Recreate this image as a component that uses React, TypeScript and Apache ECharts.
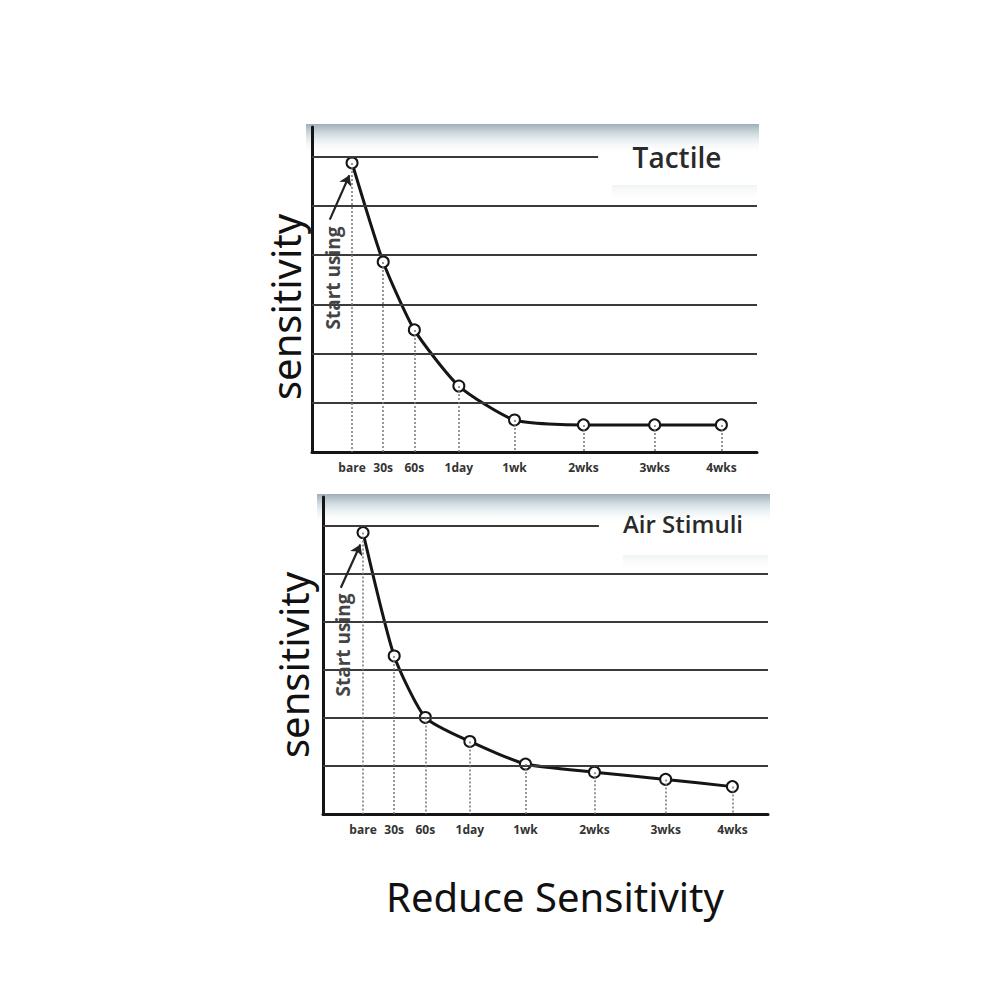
import React, { useEffect, useRef } from "react";
import * as echarts from "echarts";

// ---- data ----
const timeLabels = ["bare", "30s", "60s", "1day", "1wk", "2wks", "3wks", "4wks"];
const timePositions = [9, 16, 23, 33, 45.5, 61, 77, 92];
const tactileValues = [5.87, 3.86, 2.48, 1.34, 0.65, 0.55, 0.55, 0.55];
const airValues = [5.86, 3.29, 2.01, 1.51, 1.04, 0.87, 0.72, 0.57];
const gridLevels = [1, 2, 3, 4, 5];
const topLevel = 6;
const topLineEnds = [64.3, 62];
const panelTitles = ["Tactile", "Air Stimuli"];
const yAxisName = "sensitivity";
const footerTitle = "Reduce Sensitivity";
const annotation = "Start using";

const panelValues = [tactileValues, airValues];

const grids = [
  { left: 312, top: 127, width: 445, height: 325 },
  { left: 323, top: 497, width: 445, height: 317 },
];

function buildOption() {
  const xAxes: any[] = [];
  const yAxes: any[] = [];
  const series: any[] = [];
  panelValues.forEach((values, p) => {
    xAxes.push({
      type: "value",
      gridIndex: p,
      min: 0,
      max: 100,
      axisLine: { show: true, lineStyle: { color: "#151515", width: 3 } },
      axisTick: { show: false },
      splitLine: { show: false },
      axisLabel: {
        show: true,
        customValues: timePositions,
        formatter: (v: number) => {
          const i = timePositions.indexOf(v);
          return i >= 0 ? timeLabels[i] : "";
        },
        margin: 9,
        fontSize: 12,
        fontWeight: "bold",
        color: "#333",
        fontFamily: "Open Sans",
        hideOverlap: false,
      },
    });
    yAxes.push({
      type: "value",
      gridIndex: p,
      min: 0,
      max: 6.6,
      interval: 1,
      axisLine: { show: true, lineStyle: { color: "#151515", width: 3 } },
      axisTick: { show: false },
      axisLabel: { show: false },
      splitLine: { show: false },
    });
    const data = timePositions.map((x, i) => [x, values[i]]);
    const gridStyle = { color: "#3a3a3a", width: 2, type: "solid" };
    series.push({
      type: "line",
      xAxisIndex: p,
      yAxisIndex: p,
      data: [],
      z: 1,
      silent: true,
      markLine: {
        silent: true,
        symbol: ["none", "none"],
        label: { show: false },
        animation: false,
        data: [
          ...gridLevels.map((v) => ({ yAxis: v, lineStyle: gridStyle })),
          [
            { coord: [0, topLevel], lineStyle: gridStyle },
            { coord: [topLineEnds[p], topLevel] },
          ],
          ...data.map(([x, y]) => [
            { coord: [x, y], lineStyle: { color: "#777", width: 1.5, type: [2, 2] } },
            { coord: [x, 0] },
          ]),
        ],
      },
    });
    series.push({
      type: "line",
      xAxisIndex: p,
      yAxisIndex: p,
      data,
      z: 3,
      smooth: 0.2,
      symbol: "emptyCircle",
      symbolSize: 11,
      showSymbol: true,
      lineStyle: { color: "#151515", width: 3 },
      itemStyle: { color: "#151515", borderColor: "#151515", borderWidth: 2.6 },
      markLine: {
        silent: true,
        label: { show: false },
        animation: false,
        data: [
          [
            {
              coord: [data[0][0] - 5, data[0][1] - 1.15],
              symbol: "none",
              lineStyle: { color: "#222", width: 2.2, type: "solid", curveness: -0.1 },
            },
            { coord: [data[0][0] - 0.6, data[0][1] - 0.25], symbol: "arrow", symbolSize: 10 },
          ],
        ],
      },
    });
  });

  const graphics: any[] = [];
  grids.forEach((g, p) => {
    graphics.push({
      type: "rect",
      z: -1,
      shape: { x: g.left - 6, y: g.top - 3, width: g.width + 8, height: 30 },
      style: {
        fill: new echarts.graphic.LinearGradient(0, 0, 0, 1, [
          { offset: 0, color: "rgba(105,130,145,0.65)" },
          { offset: 0.5, color: "rgba(170,190,200,0.3)" },
          { offset: 1, color: "rgba(255,255,255,0)" },
        ]),
      },
    });
    graphics.push({
      type: "rect",
      z: -1,
      shape: { x: g.left + 300, y: g.top + 58, width: 145, height: 18 },
      style: {
        fill: new echarts.graphic.LinearGradient(0, 0, 0, 1, [
          { offset: 0, color: "rgba(170,190,200,0.18)" },
          { offset: 1, color: "rgba(255,255,255,0)" },
        ]),
      },
    });
    graphics.push({
      type: "text",
      z: 10,
      x: p === 0 ? 677 : 683,
      y: p === 0 ? 157 : 523,
      style: {
        text: panelTitles[p],
        fontSize: p === 0 ? 28 : 24,
        fontWeight: 600,
        fontFamily: "Open Sans",
        fill: "#2a2a2a",
        textAlign: "center",
        textVerticalAlign: "middle",
      },
    });
    graphics.push({
      type: "text",
      z: 10,
      x: p === 0 ? 333 : 343,
      y: p === 0 ? 278 : 645,
      rotation: Math.PI / 2,
      style: {
        text: annotation,
        fontSize: 19,
        fontWeight: "bold",
        fontFamily: "Open Sans",
        fill: "#444",
        textAlign: "center",
        textVerticalAlign: "middle",
      },
    });
    graphics.push({
      type: "text",
      z: 10,
      x: p === 0 ? 285 : 293,
      y: p === 0 ? 307 : 665,
      rotation: Math.PI / 2,
      style: {
        text: yAxisName,
        fontSize: 40,
        fontFamily: "Noto Sans",
        fill: "#111",
        textAlign: "center",
        textVerticalAlign: "middle",
      },
    });
  });
  graphics.push({
    type: "text",
    x: 555,
    y: 896,
    style: {
      text: footerTitle,
      fontSize: 40,
      fontFamily: "Noto Sans",
      fill: "#111",
      textAlign: "center",
      textVerticalAlign: "middle",
    },
  });

  return {
    animation: false,
    backgroundColor: "#ffffff",
    grid: grids.map((g) => ({ ...g, containLabel: false })),
    xAxis: xAxes,
    yAxis: yAxes,
    series,
    graphic: graphics,
  };
}

export default function App() {
  const ref = useRef<HTMLDivElement>(null);
  useEffect(() => {
    document.body.style.margin = "0";
    if (!ref.current) return;
    const chart = echarts.init(ref.current, undefined, { renderer: "svg" });
    chart.setOption(buildOption() as any);
    return () => chart.dispose();
  }, []);
  return <div ref={ref} style={{ width: 1000, height: 1000 }} />;
}
